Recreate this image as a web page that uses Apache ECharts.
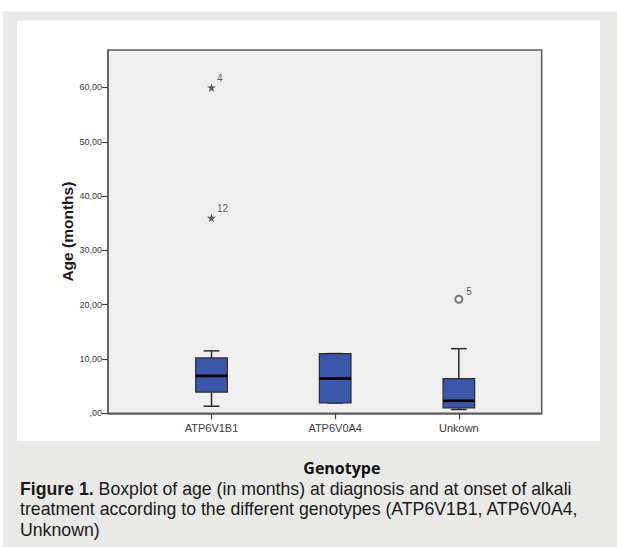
<!DOCTYPE html>
<html><head><meta charset="utf-8">
<script src="https://cdn.jsdelivr.net/npm/echarts@6/dist/echarts.min.js"></script>
<style>html,body{margin:0;padding:0;background:#fff}#c{width:617px;height:547px}</style>
</head><body><div id="c"></div>
<script>
// ---- data ----
const categories = ['ATP6V1B1', 'ATP6V0A4', 'Unkown'];
const whiskerLow  = [1.3, 1.9, 0.7];
const quartile1   = [3.9, 1.9, 1.0];
const medians     = [6.9, 6.4, 2.3];
const quartile3   = [10.2, 11.0, 6.4];
const whiskerHigh = [11.5, 11.0, 11.9];
const extremeCategory = [0, 0];
const extremeValues   = [60, 36];
const extremeIds      = ['4', '12'];
const outlierCategory = [2];
const outlierValues   = [21];
const outlierIds      = ['5'];
const yTickValues = [0, 10, 20, 30, 40, 50, 60];
const yTickLabels = [',00', '10,00', '20,00', '30,00', '40,00', '50,00', '60,00'];
const categoryPositions = [0, 1, 2];

// ---- build ----
const FONT = "'Liberation Sans', Arial, sans-serif";
const BOX_W = 0.2556;
const boxData = categories.map((c, i) => [categoryPositions[i], whiskerLow[i], quartile1[i], medians[i], quartile3[i], whiskerHigh[i]]);

function renderBox(params, api) {
  const i = api.value(0);
  const lo = api.coord([i, api.value(1)]);
  const q1 = api.coord([i, api.value(2)]);
  const md = api.coord([i, api.value(3)]);
  const q3 = api.coord([i, api.value(4)]);
  const hi = api.coord([i, api.value(5)]);
  const w = api.size([BOX_W, 0])[0];
  const x = lo[0];
  const cap = w / 4;
  const ls = { stroke: '#2a2a2a', lineWidth: 1.5 };
  return {
    type: 'group',
    children: [
      { type: 'line', shape: { x1: x, y1: hi[1], x2: x, y2: q3[1] }, style: ls },
      { type: 'line', shape: { x1: x, y1: q1[1], x2: x, y2: lo[1] }, style: ls },
      { type: 'line', shape: { x1: x - cap, y1: hi[1], x2: x + cap, y2: hi[1] }, style: ls },
      { type: 'line', shape: { x1: x - cap, y1: lo[1], x2: x + cap, y2: lo[1] }, style: ls },
      { type: 'rect', shape: { x: x - w / 2, y: q3[1], width: w, height: q1[1] - q3[1] },
        style: { fill: '#3c56a9', stroke: '#2a2a2a', lineWidth: 1.2 } },
      { type: 'line', shape: { x1: x - w / 2, y1: md[1], x2: x + w / 2, y2: md[1] },
        style: { stroke: '#000', lineWidth: 2.6 } }
    ]
  };
}

const starPath = 'path://M50,0 L61,35 L98,35 L68,57 L79,91 L50,70 L21,91 L32,57 L2,35 L39,35 Z';

const chart = echarts.init(document.getElementById('c'), null, { renderer: 'svg' });
chart.setOption({
  backgroundColor: '#ffffff',
  animation: false,
  graphic: [
    { type: 'rect', z: -100, shape: { x: 3, y: 11, width: 614, height: 536 }, style: { fill: '#e9e9e7' }, silent: true },
    { type: 'rect', z: -99, shape: { x: 17, y: 21, width: 583, height: 420 }, style: { fill: '#ffffff' }, silent: true },
    { type: 'text', left: 20, top: 479, silent: true,
      style: {
        text: '{b|Figure 1.} Boxplot of age (in months) at diagnosis and at onset of alkali\ntreatment according to the different genotypes (ATP6V1B1, ATP6V0A4,\nUnknown)',
        font: '17.7px ' + FONT, fill: '#1a1a1a', lineHeight: 20.3,
        rich: {
          b: { fontWeight: 'bold', fontSize: 17.7, fontFamily: FONT, fill: '#1a1a1a', lineHeight: 20.3 }
        }
      } }
  ],
  grid: {
    left: 108, top: 50, right: 75.3, bottom: 133.7,
    show: true, backgroundColor: '#efefef', borderColor: '#5c5c5c', borderWidth: 1.5,
    containLabel: false, outerBoundsMode: 'none'
  },
  xAxis: {
    type: 'value', min: -0.837, max: 2.67,
    splitLine: { show: false },
    axisLine: { show: true, onZero: false, lineStyle: { color: '#5c5c5c', width: 1.5 } },
    axisTick: { show: true, length: 6, customValues: categoryPositions, lineStyle: { color: '#444', width: 1.2 } },
    axisLabel: { customValues: categoryPositions, formatter: v => categories[Math.round(v)], margin: 9,
      fontSize: 11, color: '#3a3a3a', fontFamily: FONT },
    name: 'Genotype', nameLocation: 'middle', nameGap: 47, nameMoveOverlap: false,
    nameTextStyle: { fontFamily: "'Open Sans', sans-serif", fontWeight: 'bold', fontSize: 16, color: '#111', padding: [0, 0, 0, 34] }
  },
  yAxis: {
    type: 'value', min: 0, max: 66.9, interval: 10,
    splitLine: { show: false },
    axisLine: { show: true, onZero: false, lineStyle: { color: '#5c5c5c', width: 1.5 } },
    axisTick: { show: true, length: 6, customValues: yTickValues, lineStyle: { color: '#444', width: 1.2 } },
    axisLabel: { customValues: yTickValues, formatter: v => yTickLabels[yTickValues.indexOf(Math.round(v))],
      margin: 6, fontSize: 9, color: '#3a3a3a', fontFamily: FONT },
    name: 'Age (months)', nameLocation: 'middle', nameGap: 33, nameMoveOverlap: false,
    nameTextStyle: { fontFamily: FONT, fontWeight: 'bold', fontSize: 15.5, color: '#1a1a1a' }
  },
  series: [
    { type: 'custom', renderItem: renderBox, data: boxData, silent: true, encode: { x: 0, y: [1, 2, 3, 4, 5] } },
    { type: 'scatter', silent: true, symbol: starPath, symbolSize: 9,
      data: extremeValues.map((v, k) => ({ value: [categoryPositions[extremeCategory[k]], v], name: extremeIds[k] })),
      itemStyle: { color: '#333' },
      label: { show: true, formatter: p => p.name, position: 'right', distance: 1, offset: [0, -9], fontSize: 10, color: '#333', fontFamily: FONT } },
    { type: 'scatter', silent: true, symbol: 'emptyCircle', symbolSize: 7,
      data: outlierValues.map((v, k) => ({ value: [categoryPositions[outlierCategory[k]], v], name: outlierIds[k] })),
      itemStyle: { color: '#555', borderColor: '#555', borderWidth: 1.5 },
      label: { show: true, formatter: p => p.name, position: 'right', distance: 3, offset: [0, -8], fontSize: 10, color: '#333', fontFamily: FONT } }
  ]
});
</script></body></html>
